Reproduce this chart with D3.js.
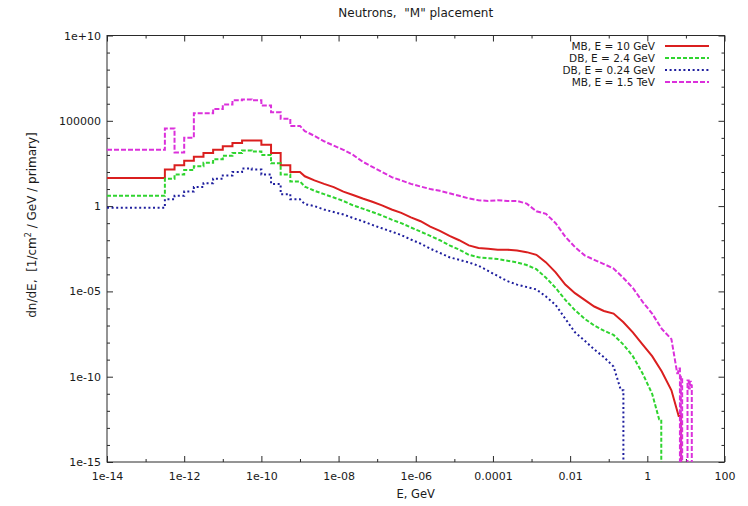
<!DOCTYPE html>
<html><head><meta charset="utf-8">
<script src="https://cdn.jsdelivr.net/npm/d3@7"></script>
<style>
body{margin:0;background:#fff}
svg{display:block}
text{font-family:"DejaVu Sans",sans-serif;fill:#1a1a1a;white-space:pre}
</style>
</head><body>
<svg id="c" width="748" height="506"></svg>
<script>
// ---------------- data ----------------
const titleText = 'Neutrons,  "M" placement';
const xLabelText = "E, GeV";
const seriesNames = ["MB, E = 10 GeV", "DB, E = 2.4 GeV", "DB, E = 0.24 GeV", "MB, E = 1.5 TeV"];

// bin lower edges, GeV
const energy = [1e-14, 3.16e-13, 5.62e-13,
  1e-12, 1.78e-12, 3.16e-12, 5.62e-12,
  1e-11, 1.78e-11, 3.16e-11, 5.62e-11,
  1e-10, 1.78e-10, 3.16e-10, 5.62e-10,
  1e-9, 1.78e-9, 3.16e-9, 5.62e-9,
  1e-8, 1.78e-8, 3.16e-8, 5.62e-8,
  1e-7, 1.78e-7, 3.16e-7, 5.62e-7,
  1e-6, 1.78e-6, 3.16e-6, 5.62e-6,
  1e-5, 1.78e-5, 3.16e-5, 5.62e-5,
  1e-4, 1.78e-4, 3.16e-4, 5.62e-4,
  1e-3, 1.78e-3, 3.16e-3, 5.62e-3,
  1e-2, 1.78e-2, 3.16e-2, 5.62e-2,
  0.1, 0.178, 0.316, 0.562,
  1, 1.78, 3.16, 5.62, 10];

const mb10 = [45, 140, 250,
  450, 790, 1300, 2000,
  3200, 5000, 7100, 7100,
  4000, 1300, 250, 100,
  56, 32, 20, 13,
  7.1, 4.5, 2.8, 1.8,
  1.1, 0.63, 0.4, 0.22,
  0.13, 0.063, 0.035, 0.018,
  0.01, 5.0e-3, 3.5e-3, 3.2e-3,
  2.8e-3, 2.8e-3, 2.5e-3, 2.0e-3,
  1.4e-3, 5.0e-4, 1.3e-4, 2.5e-5,
  7.9e-6, 3.2e-6, 1.3e-6, 7.1e-7,
  5.0e-7, 1.6e-7, 4.0e-8, 7.9e-9,
  1.6e-9, 2.0e-10, 1.6e-11, 5.0e-13, null];

const db24 = [4.0, 40, 71,
  130, 220, 350, 560,
  890, 1300, 1800, 1600,
  1000, 320, 71, 28,
  14, 7.9, 5.0, 3.2,
  2.0, 1.1, 0.71, 0.45,
  0.28, 0.16, 0.1, 0.056,
  0.032, 0.018, 0.01, 5.0e-3,
  2.8e-3, 1.4e-3, 1.0e-3, 8.9e-4,
  7.9e-4, 6.3e-4, 5.0e-4, 3.5e-4,
  2.0e-4, 6.3e-5, 1.6e-5, 3.2e-6,
  7.9e-7, 2.5e-7, 1.0e-7, 5.0e-8,
  2.8e-8, 7.9e-9, 1.6e-9, 1.6e-10,
  1.0e-11, 3.2e-13, null, null, null];

const db024 = [0.79, 2.5, 4.0,
  7.1, 13, 22, 40,
  63, 100, 160, 140,
  71, 20, 5.0, 2.5,
  1.3, 1.0, 0.63, 0.45,
  0.32, 0.2, 0.13, 0.079,
  0.05, 0.032, 0.02, 0.011,
  6.3e-3, 3.2e-3, 1.8e-3, 1.0e-3,
  7.1e-4, 5.0e-4, 3.2e-4, 1.6e-4,
  7.9e-5, 4.0e-5, 2.5e-5, 1.8e-5,
  1.3e-5, 5.0e-6, 1.6e-6, 2.5e-7,
  4.0e-8, 1.3e-8, 4.0e-9, 1.4e-9,
  4.0e-10, 1.6e-11, null, null,
  null, null, null, null, null];

const mb15 = [2000, 3.5e4, 1400,
  1.0e4, 2.8e5, 2.8e5, 5.0e5,
  8.9e5, 1.6e6, 1.8e6, 1.6e6,
  7.9e5, 3.2e5, 1.3e5, 5.0e4,
  2.5e4, 1.3e4, 6300, 3500,
  2000, 1000, 400, 200,
  100, 50, 32, 20,
  14, 10, 7.9, 5.6,
  4.0, 2.8, 2.2, 2.0,
  2.2, 2.0, 2.0, 1.4,
  0.5, 0.35, 0.1, 0.016,
  4.0e-3, 1.3e-3, 7.1e-4, 4.0e-4,
  2.2e-4, 6.3e-5, 1.6e-5, 2.5e-6,
  5.0e-7, 6.3e-8, 1.6e-8, 1.6e-10, null];

// high-energy spikes of the 1.5 TeV curve (bin lower edges; 0 = empty bin)
const mb15TailE = [6.3, 7.0, 7.4, 8.0, 8.6, 11.0, 11.8, 12.6, 13.4, 14.2, 15.0];
const mb15TailV = [3.0e-10, 0, 1.0e-10, 0, 0, 6.0e-11, 2.0e-11, 5.0e-11, 3.0e-11, 0, 0];

// energies where each spectrum ends
const cutoffs = [7.5, 2.3, 0.24, 6.3];

const xTickValues = [1e-14, 1e-12, 1e-10, 1e-8, 1e-6, 1e-4, 1e-2, 1, 100];
const xTickLabels = ["1e-14", "1e-12", "1e-10", "1e-08", "1e-06", "0.0001", "0.01", "1", "100"];
const xMinorValues = [1e-13, 1e-11, 1e-9, 1e-7, 1e-5, 1e-3, 0.1, 10];
const yTickValues = [1e-15, 1e-10, 1e-5, 1, 1e5, 1e10];
const yTickLabels = ["1e-15", "1e-10", "1e-05", "1", "100000", "1e+10"];
const yMinorValues = [1e-14, 1e-13, 1e-12, 1e-11, 1e-9, 1e-8, 1e-7, 1e-6, 1e-4, 1e-3, 1e-2, 0.1,
  10, 100, 1000, 1e4, 1e6, 1e7, 1e8, 1e9];

// ---------------- drawing ----------------
const colors = ["#da1f1f", "#2fd42f", "#1f1f9e", "#db30db"];
const dashes = [null, "4,2", "2,2.6", "5,2"];
const widths = [2, 2, 2, 2];
const stepLimit = 1e-9;   // histogram look below this energy

const svg = d3.select("#c");
const M = {l: 107, r: 724.5, t: 35.5, b: 462};
const x = d3.scaleLog().domain([1e-14, 100]).range([M.l, M.r]);
const y = d3.scaleLog().domain([1e-15, 1e10]).range([M.b, M.t]);

svg.append("defs").append("clipPath").attr("id", "plot")
  .append("rect").attr("x", M.l).attr("y", M.t).attr("width", M.r - M.l).attr("height", M.b - M.t);

const fontAxis = g => g.attr("font-family", '"DejaVu Sans", sans-serif').attr("font-size", 11)
  .call(s => s.select(".domain").remove())
  .call(s => s.selectAll(".tick line").attr("stroke", "#2a2a2a"))
  .call(s => s.selectAll(".tick text").attr("fill", "#1a1a1a"));

// bottom / top
svg.append("g").attr("transform", `translate(0,${M.b})`)
  .call(d3.axisBottom(x).tickValues(xTickValues).tickFormat((d, i) => xTickLabels[i]).tickSizeInner(-6).tickSizeOuter(0).tickPadding(10))
  .call(fontAxis);
svg.append("g").attr("transform", `translate(0,${M.b})`)
  .call(d3.axisBottom(x).tickValues(xMinorValues).tickFormat("").tickSizeInner(-3).tickSizeOuter(0))
  .call(fontAxis);
svg.append("g").attr("transform", `translate(0,${M.t})`)
  .call(d3.axisTop(x).tickValues(xTickValues).tickFormat("").tickSizeInner(-6).tickSizeOuter(0))
  .call(fontAxis);
svg.append("g").attr("transform", `translate(0,${M.t})`)
  .call(d3.axisTop(x).tickValues(xMinorValues).tickFormat("").tickSizeInner(-3).tickSizeOuter(0))
  .call(fontAxis);
// left / right
svg.append("g").attr("transform", `translate(${M.l},0)`)
  .call(d3.axisLeft(y).tickValues(yTickValues).tickFormat((d, i) => yTickLabels[i]).tickSizeInner(-6).tickSizeOuter(0).tickPadding(6))
  .call(fontAxis);
svg.append("g").attr("transform", `translate(${M.l},0)`)
  .call(d3.axisLeft(y).tickValues(yMinorValues).tickFormat("").tickSizeInner(-3).tickSizeOuter(0))
  .call(fontAxis);
svg.append("g").attr("transform", `translate(${M.r},0)`)
  .call(d3.axisRight(y).tickValues(yTickValues).tickFormat("").tickSizeInner(-6).tickSizeOuter(0))
  .call(fontAxis);
svg.append("g").attr("transform", `translate(${M.r},0)`)
  .call(d3.axisRight(y).tickValues(yMinorValues).tickFormat("").tickSizeInner(-3).tickSizeOuter(0))
  .call(fontAxis);

// frame
svg.append("rect").attr("x", M.l).attr("y", M.t).attr("width", M.r - M.l).attr("height", M.b - M.t)
  .attr("fill", "none").attr("stroke", "#2a2a2a").attr("stroke-width", 1);

// series
const floorY = M.b + 6;
const line = d3.line()
  .x(d => x(d[0]))
  .y(d => d[1] > 0 ? y(d[1]) : floorY);

function seriesPoints(vals, s) {
  const idx = energy.map((e, i) => i).filter(i => vals[i] != null);
  const pts = [];
  idx.forEach((i, k) => {
    const e0 = energy[i];
    const e1 = k < idx.length - 1 ? energy[idx[k + 1]] : cutoffs[s];
    if (e0 < stepLimit) { pts.push([e0, vals[i]]); pts.push([e1, vals[i]]); }
    else pts.push([Math.sqrt(e0 * e1), vals[i]]);
  });
  const last = vals[idx[idx.length - 1]];
  pts.push([cutoffs[s], last]);
  if (s === 3) {
    mb15TailE.forEach((e, i) => {
      const e1 = i < mb15TailE.length - 1 ? mb15TailE[i + 1] : e;
      pts.push([e, mb15TailV[i]]); pts.push([e1, mb15TailV[i]]);
    });
  } else {
    pts.push([cutoffs[s], 0]);
  }
  return pts;
}

const seriesVals = [mb10, db24, db024, mb15];
const plot = svg.append("g").attr("clip-path", "url(#plot)");
seriesVals.forEach((vals, s) => {
  plot.append("path").datum(seriesPoints(vals, s))
    .attr("d", line)
    .attr("fill", "none")
    .attr("stroke", colors[s])
    .attr("stroke-width", widths[s])
    .attr("stroke-dasharray", dashes[s])
    .attr("stroke-linejoin", "miter");
});

// legend
const lg = svg.append("g");
seriesNames.forEach((name, i) => {
  const yy = 46 + i * 12;
  lg.append("text").attr("x", 655).attr("y", yy).attr("dy", "0.36em")
    .attr("text-anchor", "end").attr("font-size", 10.5).text(name);
  lg.append("line").attr("x1", 665).attr("x2", 709).attr("y1", yy).attr("y2", yy)
    .attr("stroke", colors[i]).attr("stroke-width", widths[i]).attr("stroke-dasharray", dashes[i]);
});

// title & axis labels
svg.append("text").attr("x", (M.l + M.r) / 2).attr("y", 13).attr("dy", "0.36em")
  .attr("text-anchor", "middle").attr("font-size", 12).text(titleText);
svg.append("text").attr("x", (M.l + M.r) / 2).attr("y", 494).attr("dy", "0.36em")
  .attr("text-anchor", "middle").attr("font-size", 11.5).text(xLabelText);

const yl = svg.append("text").attr("transform", "translate(36,225) rotate(-90)")
  .attr("text-anchor", "middle").attr("font-size", 12);
yl.append("tspan").text("dn/dE,  [1/cm");
yl.append("tspan").attr("dy", -5).attr("font-size", 8).text("2");
yl.append("tspan").attr("dy", 5).text(" / GeV / primary]");
</script>
</body></html>
